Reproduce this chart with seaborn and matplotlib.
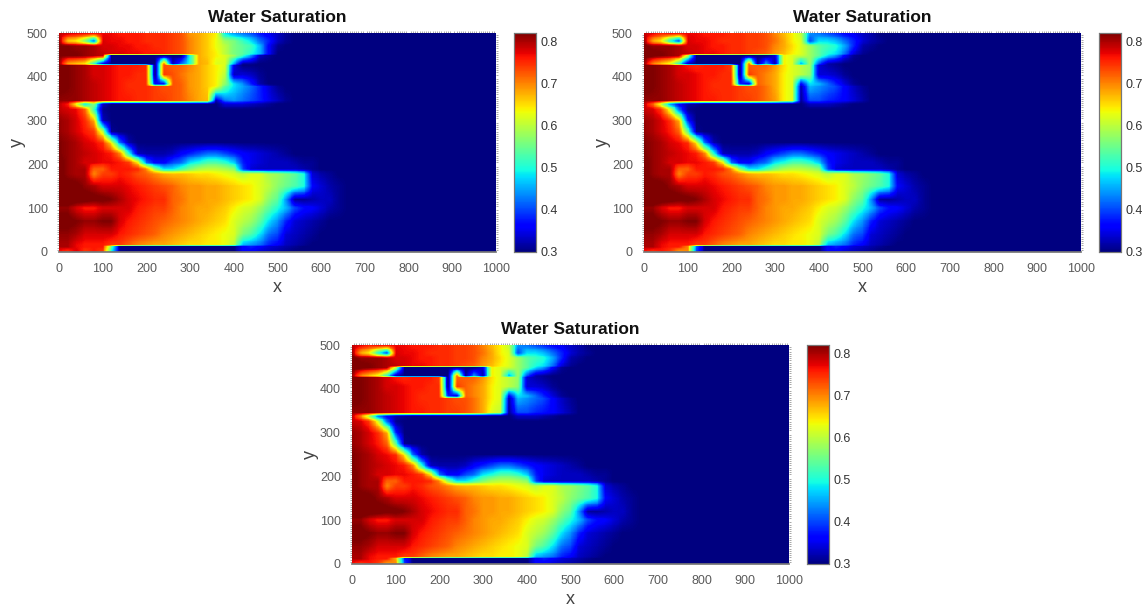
"""Water saturation maps, three runs side by side."""

import matplotlib

matplotlib.use("Agg")
import matplotlib.pyplot as plt
import numpy as np
import seaborn as sns
from matplotlib.ticker import MultipleLocator

X_STEP = 20  # saturation rows below are sampled every 20 x units, from x=0
X_TICKS = [0, 100, 200, 300, 400, 500, 600, 700, 800, 900, 1000]
Y_TICKS = [0, 100, 200, 300, 400, 500]
CBAR_TICKS = [0.3, 0.4, 0.5, 0.6, 0.7, 0.8]
TITLE = "Water Saturation"

# y position of each row, top to bottom
y_rows = [500, 482, 470, 452, 449, 430, 427, 405, 384, 378, 345, 338, 325, 300,
          275, 250, 225, 205, 190, 178, 150, 120, 100, 70, 40, 16, 13, 0]

# saturation x100; anything past the end of a row is 30
sat_a = [
    [79, 79, 78, 78, 78, 77, 77, 76, 76, 76, 75, 75, 75, 74, 73, 69, 68, 66, 64, 48, 44, 42, 40, 37, 35, 33, 31],
    [81, 66, 64, 56, 42, 78, 77, 77, 76, 76, 75, 75, 75, 74, 73, 70, 68, 66, 63, 58, 56, 52, 48, 42, 38, 33, 31],
    [82, 82, 81, 81, 80, 78, 78, 77, 77, 76, 76, 75, 75, 74, 73, 70, 68, 66, 63, 60, 56, 54, 52, 46, 36, 31],
    [82, 82, 82, 81, 80, 79, 78, 78, 77, 77, 76, 76, 75, 74, 73, 70, 68, 66, 64, 60, 56, 54, 50, 46, 36],
    [82, 82, 82, 81, 80, 79, 30, 30, 30, 30, 30, 30, 30, 30, 30, 50, 68, 66, 64, 62, 58, 52, 44, 33, 31],
    [81, 68, 66, 64, 50, 34, 30, 30, 30, 30, 30, 30, 72, 32, 42, 50, 68, 67, 62, 62, 45, 31, 31],
    [83, 82, 81, 80, 78, 78, 77, 76, 76, 76, 75, 30, 73, 72, 72, 70, 68, 66, 64, 62, 35],
    [83, 82, 81, 80, 78, 78, 77, 76, 76, 75, 75, 30, 74, 73, 71, 69, 68, 66, 64, 60, 33, 34, 33, 31],
    [83, 82, 81, 80, 79, 78, 77, 76, 75, 75, 75, 36, 36, 73, 72, 69, 68, 66, 64, 57, 48, 44, 38, 32],
    [83, 82, 81, 80, 79, 78, 77, 76, 75, 75, 75, 74, 73, 73, 72, 69, 68, 66, 64, 54, 48, 45, 42, 38, 34, 31],
    [81, 81, 81, 80, 79, 78, 77, 76, 76, 75, 75, 74, 74, 73, 72, 70, 68, 67, 32, 42, 44, 42, 40, 38, 35, 33, 31],
    [79, 76, 62, 48, 57, 33, 30, 30, 30, 30, 30, 30, 30, 30, 30, 30, 30, 30, 30, 34, 34, 34, 33, 32, 31],
    [79, 78, 77, 72, 52, 31],
    [81, 80, 78, 75, 68, 33],
    [81, 80, 78, 76, 74, 60, 31],
    [82, 81, 80, 78, 77, 75, 64, 42, 32],
    [82, 81, 80, 79, 78, 77, 76, 70, 50, 33, 32, 32, 32, 33, 36, 38, 40, 42, 42, 40, 38, 36, 35, 34, 33, 32, 31],
    [83, 81, 80, 78, 78, 77, 77, 76, 74, 64, 42, 36, 36, 40, 42, 48, 50, 53, 53, 51, 47, 38, 35, 34, 33, 33, 33, 32, 31, 31],
    [83, 81, 80, 80, 72, 72, 76, 76, 76, 75, 70, 57, 48, 48, 52, 56, 59, 60, 60, 59, 57, 40, 34, 33, 33, 33, 33, 33, 32, 31],
    [83, 81, 80, 80, 70, 74, 74, 76, 75, 73, 72, 70, 68, 67, 67, 66, 65, 65, 64, 63, 62, 60, 62, 62, 59, 58, 56, 54, 50, 34, 32, 31],
    [83, 83, 83, 81, 80, 78, 78, 78, 77, 76, 75, 74, 73, 72, 70, 69, 69, 68, 68, 67, 66, 65, 64, 62, 60, 57, 55, 53, 50, 36, 34, 32, 31],
    [84, 84, 84, 84, 83, 83, 82, 80, 78, 77, 76, 75, 75, 72, 71, 69, 69, 68, 68, 67, 66, 65, 64, 62, 57, 54, 44, 31, 31, 32, 33, 33, 31],
    [81, 81, 78, 76, 76, 78, 78, 78, 78, 76, 75, 74, 74, 72, 70, 69, 68, 68, 67, 66, 64, 62, 61, 58, 54, 50, 46, 40, 37, 36, 34, 32, 31],
    [83, 83, 82, 81, 81, 82, 82, 78, 76, 75, 74, 73, 72, 71, 70, 69, 68, 67, 66, 65, 62, 60, 58, 54, 48, 44, 38, 34, 33, 32, 31],
    [81, 81, 80, 78, 78, 78, 78, 76, 75, 74, 73, 72, 70, 69, 68, 67, 66, 65, 64, 63, 62, 56, 53, 48, 42, 40, 34, 33, 32, 31],
    [80, 80, 77, 76, 76, 76, 74, 74, 72, 70, 69, 68, 68, 67, 66, 65, 65, 64, 64, 63, 60, 46, 44, 42, 38, 36, 33, 32, 31],
    [80, 80, 77, 76, 76, 76, 55, 30, 30, 30, 30, 30, 30, 30, 30, 30, 30, 30, 30, 30, 30, 36, 38, 36, 34, 33, 32, 31],
    [76, 74, 78, 74, 76, 74, 50, 31, 30, 30, 30, 30, 30, 30, 30, 30, 30, 30, 30, 30, 30, 36, 36, 34, 33, 32, 31],
]

# second run: the channel region and the bottom strip differ, the lobe is close
sat_b_rows = {
    500: [79, 78, 76, 78, 78, 77, 77, 76, 76, 76, 75, 75, 74, 74, 73, 70, 67, 64, 60, 44, 42, 40, 38, 36, 35, 33, 32],
    482: [81, 68, 64, 50, 40, 78, 77, 77, 76, 75, 75, 75, 74, 74, 73, 71, 68, 64, 62, 40, 48, 48, 46, 42, 38, 34, 32, 31],
    470: [83, 81, 81, 81, 80, 78, 78, 77, 76, 76, 75, 75, 74, 74, 73, 70, 68, 65, 62, 58, 54, 52, 50, 45, 38, 32, 31],
    452: [83, 83, 82, 81, 80, 79, 78, 77, 77, 76, 75, 75, 74, 73, 72, 69, 67, 64, 62, 58, 54, 50, 48, 42, 34, 31],
    449: [83, 83, 82, 81, 80, 60, 30, 30, 30, 30, 30, 30, 30, 30, 30, 34, 64, 62, 61, 58, 54, 48, 44, 36, 31],
    430: [81, 70, 66, 62, 50, 32, 30, 30, 30, 30, 30, 30, 72, 30, 45, 32, 64, 62, 45, 58, 40, 32, 31],
    427: [83, 82, 81, 80, 78, 76, 75, 76, 76, 76, 74, 30, 72, 72, 72, 69, 65, 62, 60, 58, 34, 32, 31],
    405: [83, 82, 81, 80, 78, 78, 77, 76, 76, 75, 75, 30, 74, 72, 70, 68, 64, 62, 60, 57, 34, 34, 33, 31],
    384: [83, 82, 81, 80, 79, 78, 77, 76, 75, 75, 75, 38, 34, 72, 70, 68, 64, 62, 36, 48, 46, 42, 38, 34, 31],
    378: [83, 82, 81, 80, 79, 78, 77, 76, 75, 75, 75, 74, 73, 73, 71, 68, 64, 62, 32, 46, 44, 42, 40, 36, 33, 31],
    345: [81, 81, 81, 80, 79, 78, 77, 76, 76, 75, 75, 74, 74, 73, 71, 69, 64, 62, 31, 40, 40, 38, 37, 36, 34, 32],
    338: [79, 72, 60, 44, 36, 32, 31, 30, 30, 30, 30, 30, 30, 30, 30, 30, 30, 30, 30, 33, 33, 33, 32, 31],
    325: [79, 78, 74, 62, 42, 31],
    300: [81, 80, 78, 75, 68, 38],
    275: [81, 80, 78, 76, 72, 54, 31],
    13: [80, 80, 77, 76, 76, 70, 42, 30, 30, 30, 30, 30, 30, 30, 30, 30, 30, 30, 30, 30, 30, 36, 38, 36, 34, 33, 32, 31],
    0: [76, 74, 76, 74, 68, 70, 40, 30, 30, 30, 30, 30, 30, 30, 30, 30, 30, 30, 30, 30, 30, 36, 36, 34, 33, 32, 31],
}

# third run: almost the second one
sat_c_rows = {
    345: [81, 81, 81, 80, 79, 78, 77, 76, 76, 75, 75, 74, 74, 73, 71, 68, 62, 60, 31, 40, 40, 38, 37, 36, 34, 32],
    338: [79, 70, 58, 42, 36, 32, 31, 30, 30, 30, 30, 30, 30, 30, 30, 30, 30, 30, 30, 33, 33, 33, 32, 31],
    13: [80, 80, 77, 76, 76, 68, 38, 30, 30, 30, 30, 30, 30, 30, 30, 30, 30, 30, 30, 30, 30, 36, 38, 36, 34, 33, 32, 31],
}

# axes and colorbar rectangles in pixels: left, top
panel_pos = [(59, 33), (644, 33), (352, 345)]
AX_W, AX_H = 437, 219
CBAR_OFF, CBAR_W = 455, 22
FIG_W, FIG_H = 1146, 611


def patched(base, changes):
    return [changes.get(y, row) for y, row in zip(y_rows, base)]


def fine_field(rows):
    """Pad rows, then resample to a 2-unit mesh for the heatmap."""
    xs = np.arange(0, 1001, X_STEP)
    grid = np.full((len(rows), len(xs)), 30.0)
    for i, row in enumerate(rows):
        grid[i, : len(row)] = row
    x_fine = np.arange(1, 1000, 2)
    y_fine = np.arange(499, 0, -2)
    by_x = np.array([np.interp(x_fine, xs, r) for r in grid])
    y_up = np.array(y_rows[::-1])
    out = np.array([np.interp(y_fine, y_up, c[::-1]) for c in by_x.T]).T
    return out / 100


def rect(left, top, w, h):
    return [left / FIG_W, 1 - (top + h) / FIG_H, w / FIG_W, h / FIG_H]


def draw_panel(fig, rows, left, top):
    ax = fig.add_axes(rect(left, top, AX_W, AX_H))
    cax = fig.add_axes(rect(left + CBAR_OFF, top, CBAR_W, AX_H))
    sns.heatmap(
        fine_field(rows),
        ax=ax,
        cbar_ax=cax,
        cmap="jet",
        vmin=0.3,
        vmax=0.82,
        xticklabels=False,
        yticklabels=False,
        rasterized=True,
    )
    ax.set_xticks([v / 2 for v in X_TICKS], labels=[str(v) for v in X_TICKS])
    ax.set_yticks([(500 - v) / 2 for v in Y_TICKS], labels=[str(v) for v in Y_TICKS])
    ax.xaxis.set_minor_locator(MultipleLocator(2.5))
    ax.yaxis.set_minor_locator(MultipleLocator(2.5))
    ax.tick_params(which="major", length=6, width=1, color="#666666",
                   labelcolor="#5a5a5a", labelsize=9, pad=2)
    ax.tick_params(axis="y", labelrotation=0)
    ax.tick_params(which="minor", length=1.2, width=0.6, color="#999999",
                   left=True, bottom=False, top=True, right=True, direction="out")
    for side, spine in ax.spines.items():
        spine.set_visible(side == "bottom")
        spine.set_color("#777777")
    ax.set_title(TITLE, fontsize=12.5, fontweight="bold", color="#111111", pad=8)
    ax.set_xlabel("x", fontsize=13, color="#444444", labelpad=3)
    ax.set_ylabel("y", fontsize=13, color="#444444", labelpad=1)

    cax.set_yticks(CBAR_TICKS, labels=[f"{t:.1f}" for t in CBAR_TICKS])
    cax.tick_params(length=2, width=0.7, color="#444444", labelcolor="#333333",
                    labelsize=9, pad=3, direction="in")
    for spine in cax.spines.values():
        spine.set_visible(True)
        spine.set_color("#777777")
        spine.set_linewidth(0.8)


sns.set_theme(style="white")
plt.rcParams["font.family"] = ["Liberation Sans", "DejaVu Sans"]

sat_b = patched(sat_a, sat_b_rows)
sat_c = patched(sat_b, sat_c_rows)

fig = plt.figure(figsize=(FIG_W / 100, FIG_H / 100), dpi=100)
for rows, (left, top) in zip([sat_a, sat_b, sat_c], panel_pos):
    draw_panel(fig, rows, left, top)

fig.savefig("out.png", dpi=100)
plt.close(fig)
